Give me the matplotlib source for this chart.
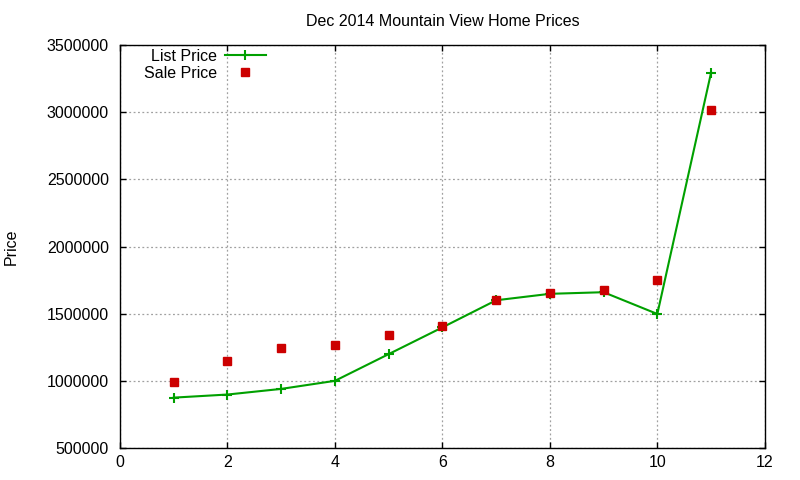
import matplotlib
matplotlib.use("Agg")
import matplotlib.pyplot as plt
from matplotlib.ticker import FuncFormatter

plt.rcParams['font.family'] = ['Liberation Sans', 'DejaVu Sans']

# home index and prices
homes = [1, 2, 3, 4, 5, 6, 7, 8, 9, 10, 11]
list_price = [875000, 898000, 940000, 1000000, 1199000, 1398000, 1600000,
              1648000, 1660000, 1498000, 3295000]
sale_price = [988000, 1151000, 1248000, 1270000, 1345000, 1412000, 1600000,
              1652000, 1675000, 1750000, 3015000]

fs = 11.5

fig = plt.figure(figsize=(8, 4.8), dpi=100)
ax = fig.add_axes([0.15, 0.0667, 0.806, 0.8393])

ax.plot(homes, list_price, color='#00a000', lw=1.5, marker='+', ms=7, mew=1.5,
        label='List Price')
ax.plot(homes, sale_price, color='#cc0000', ls='none', marker='s', ms=6,
        label='Sale Price')

ax.set_xlim(0, 12)
ax.set_ylim(500000, 3500000)
ax.set_xticks(range(0, 13, 2))
ax.set_yticks(range(500000, 3500001, 500000))
ax.yaxis.set_major_formatter(FuncFormatter(lambda v, p: f"{int(v)}"))

ax.grid(True, color='#a0a0a0', ls=(0, (1.5, 2)), lw=0.9)
ax.tick_params(direction='in', top=True, right=True, length=4, width=1,
               labelsize=fs)
ax.tick_params(axis='y', pad=8)
ax.tick_params(axis='x', pad=5)
for s in ax.spines.values():
    s.set_linewidth(1)

ax.set_title("Dec 2014 Mountain View Home Prices", fontsize=fs, pad=14)
ax.set_ylabel("Price", fontsize=fs, labelpad=20)

leg = ax.legend(loc='upper left', bbox_to_anchor=(0.034, 0.995), frameon=False,
                markerfirst=False, fontsize=fs, handlelength=2.6,
                handletextpad=0.5, labelspacing=0.12, borderaxespad=0,
                borderpad=0.1)
for col in leg._legend_handle_box.get_children():
    col.align = 'right'

fig.savefig("out.png", dpi=100)
